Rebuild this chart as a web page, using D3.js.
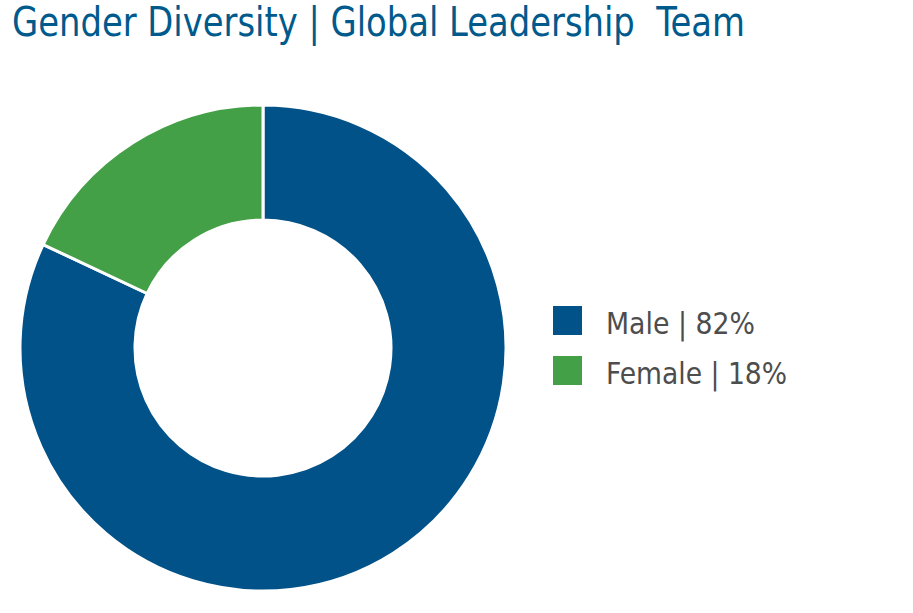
<!DOCTYPE html>
<html>
<head>
<meta charset="utf-8">
<script src="https://cdn.jsdelivr.net/npm/d3@7"></script>
<style>
  body { margin: 0; background: #fff; }
  text { font-family: "DejaVu Sans Condensed", "Liberation Sans Narrow", sans-serif; }
</style>
</head>
<body>
<div id="chart"></div>
<script>
// data
var categories = ["Male", "Female"];
var values = [82, 18];
var colors = ["#005288", "#43a047"];

var width = 913, height = 613;
var cx = 263, cy = 348, outerR = 243, innerR = 128;

var svg = d3.select("#chart").append("svg")
    .attr("width", width)
    .attr("height", height);

// title
svg.append("text")
    .attr("x", 12)
    .attr("y", 36)
    .attr("fill", "#005a8c")
    .attr("xml:space", "preserve")
    .attr("textLength", 733)
    .attr("lengthAdjust", "spacingAndGlyphs")
    .style("font-size", "40px")
    .text("Gender Diversity | Global Leadership  Team");

var data = categories.map(function(c, i) { return {name: c, value: values[i]}; });

var pie = d3.pie()
    .value(function(d) { return d.value; })
    .sort(null);

var arc = d3.arc()
    .innerRadius(innerR)
    .outerRadius(outerR);

var g = svg.append("g")
    .attr("transform", "translate(" + cx + "," + cy + ")");

g.selectAll("path")
    .data(pie(data))
  .enter().append("path")
    .attr("d", arc)
    .attr("fill", function(d, i) { return colors[i]; })
    .attr("stroke", "#fff")
    .attr("stroke-width", 3);

// legend
var legend = svg.append("g")
    .attr("transform", "translate(553,306)");

var item = legend.selectAll("g")
    .data(data)
  .enter().append("g")
    .attr("transform", function(d, i) { return "translate(0," + (i * 50) + ")"; });

item.append("rect")
    .attr("width", 29)
    .attr("height", 29)
    .attr("fill", function(d, i) { return colors[i]; });

item.append("text")
    .attr("x", 53)
    .attr("y", 28)
    .attr("fill", "#4d4d4d")
    .style("font-size", "31px")
    .attr("textLength", function(d, i) { return i === 0 ? 149 : 181; })
    .attr("lengthAdjust", "spacingAndGlyphs")
    .text(function(d) { return d.name + " | " + d.value + "%"; });
</script>
</body>
</html>
